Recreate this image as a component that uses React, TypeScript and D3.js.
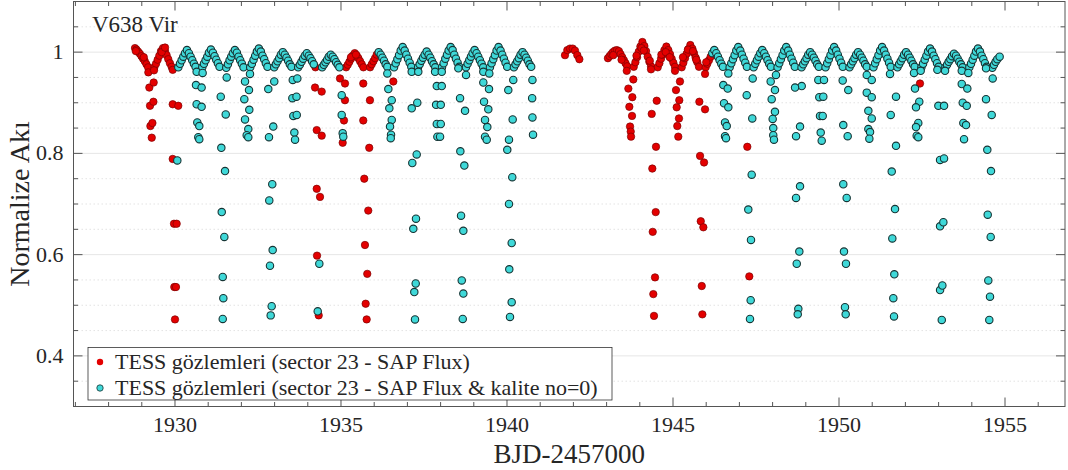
import React from "react";
import * as d3 from "d3";

// ---------- axes / labels ----------
const xTicks = [1930, 1935, 1940, 1945, 1950, 1955];
const yTicks = [0.4, 0.6, 0.8, 1];
const yTickLabels = ["0.4", "0.6", "0.8", "1"];
const xDomain: [number, number] = [1926.943, 1956.807];
const yDomain: [number, number] = [0.3, 1.1];
const title = "V638 Vir";
const xLabel = "BJD-2457000";
const yLabel = "Normalize Akı";
const legendLabels = [
  "TESS gözlemleri (sector 23 - SAP Flux)",
  "TESS gözlemleri (sector 23 - SAP Flux & kalite no=0)",
];

// ---------- SAP flux (all points, red) : out-of-eclipse ----------
const redOut: [number, number][] = [
  [1928.795, 1.008], [1928.84, 1.005], [1928.89, 1.001], [1928.94, 0.997], [1928.99, 0.992], [1929.04, 0.987], [1929.09, 0.982], [1929.14, 0.976], [1929.19, 0.970],
  [1928.82, 1.002], [1929.06, 0.990],
  [1929.378, 0.970], [1929.428, 0.977], [1929.478, 0.985], [1929.528, 0.993], [1929.578, 1.002], [1929.638, 1.008], [1929.698, 1.002], [1929.748, 0.994], [1929.798, 0.986], [1929.848, 0.978], [1929.898, 0.971],
  [1929.60, 1.000], [1929.70, 1.009],
  [1934.23, 0.970],
  [1935.154, 0.970], [1935.204, 0.975], [1935.254, 0.981], [1935.304, 0.987], [1935.354, 0.993], [1935.414, 0.998], [1935.474, 0.993], [1935.524, 0.988], [1935.574, 0.982], [1935.624, 0.976], [1935.674, 0.970],
  [1935.30, 0.990], [1935.45, 0.995],
  [1935.876, 0.970], [1935.926, 0.976], [1935.976, 0.982], [1936.026, 0.988], [1936.076, 0.995],
  [1941.747, 0.994], [1941.817, 1.004], [1941.898, 1.007], [1941.98, 1.007], [1942.048, 1.003], [1942.118, 0.994], [1942.18, 0.986],
  [1943.04, 0.988], [1943.09, 0.992], [1943.14, 0.996], [1943.19, 1.000], [1943.25, 1.003], [1943.31, 1.004], [1943.37, 1.002], [1943.42, 0.996], [1943.47, 0.990], [1943.52, 0.984], [1943.57, 0.978], [1943.62, 0.972],
  [1943.818, 0.971], [1943.868, 0.980], [1943.918, 0.990], [1943.968, 1.001], [1944.018, 1.011], [1944.078, 1.020], [1944.138, 1.012], [1944.188, 1.002], [1944.238, 0.991], [1944.288, 0.981], [1944.338, 0.972],
  [1944.54, 0.970], [1944.59, 0.978], [1944.64, 0.987], [1944.69, 0.995], [1944.74, 1.004], [1944.80, 1.011], [1944.86, 1.004], [1944.91, 0.996], [1944.96, 0.987], [1945.01, 0.979], [1945.06, 0.971],
  [1945.262, 0.970], [1945.312, 0.979], [1945.362, 0.988], [1945.412, 0.997], [1945.462, 1.006], [1945.522, 1.014], [1945.582, 1.007], [1945.632, 0.998], [1945.682, 0.989], [1945.732, 0.980], [1945.782, 0.971],
  [1945.984, 0.970], [1946.034, 0.977], [1946.084, 0.984], [1946.134, 0.991],
  [1943.20, 0.994], [1943.45, 0.985], [1943.90, 0.993], [1944.05, 1.008], [1944.12, 1.003], [1944.30, 0.983], [1944.65, 0.995], [1944.78, 1.000], [1944.90, 0.990], [1945.30, 0.990], [1945.45, 1.005], [1945.60, 1.002], [1945.70, 0.985], [1946.00, 0.980],
];

// ---------- SAP flux (all points, red) : eclipses ----------
const redEcl: [number, number][] = [
  [1929.197, 0.960], [1929.368, 0.964], [1929.227, 0.930], [1929.358, 0.940], [1929.248, 0.894], [1929.35, 0.902], [1929.259, 0.854], [1929.32, 0.860], [1929.30, 0.831],
  [1929.931, 0.965], [1929.931, 0.897], [1930.099, 0.894], [1929.931, 0.789], [1929.97, 0.661], [1930.05, 0.661], [1929.979, 0.536], [1930.03, 0.536], [1930.0, 0.472],
  [1934.218, 0.930], [1934.419, 0.922], [1934.269, 0.846], [1934.419, 0.835], [1934.269, 0.730], [1934.368, 0.714], [1934.278, 0.598], [1934.329, 0.480],
  [1934.97, 0.948], [1935.12, 0.938], [1935.12, 0.905], [1935.09, 0.865], [1935.051, 0.821],
  [1935.671, 0.938], [1935.872, 0.905], [1935.671, 0.865], [1935.851, 0.811], [1935.701, 0.750], [1935.821, 0.687], [1935.722, 0.619], [1935.791, 0.562], [1935.743, 0.503], [1935.773, 0.472],
  [1936.576, 0.942],
  [1943.607, 0.963], [1943.805, 0.946], [1943.655, 0.928], [1943.775, 0.911], [1943.685, 0.892], [1943.766, 0.874], [1943.706, 0.853], [1943.727, 0.843], [1943.736, 0.833],
  [1944.338, 0.966], [1944.509, 0.904], [1944.359, 0.878], [1944.488, 0.813], [1944.377, 0.770], [1944.479, 0.684], [1944.389, 0.645], [1944.458, 0.555], [1944.407, 0.522], [1944.428, 0.479],
  [1945.06, 0.963], [1945.21, 0.942], [1945.09, 0.925], [1945.189, 0.905], [1945.111, 0.891], [1945.18, 0.869], [1945.129, 0.854], [1945.159, 0.833],
  [1945.965, 0.957], [1945.794, 0.902], [1945.965, 0.887], [1945.815, 0.795], [1945.935, 0.782], [1945.836, 0.666], [1945.914, 0.654], [1945.866, 0.538], [1945.884, 0.482],
  [1947.238, 0.813], [1947.298, 0.557],
  [1952.439, 0.938],
];

// ---------- quality = 0 (cyan) : out-of-eclipse ----------
const cyanOut: [number, number][] = [
  [1930.10, 0.970], [1930.15, 0.977], [1930.20, 0.984], [1930.25, 0.991], [1930.30, 0.998], [1930.36, 1.004], [1930.42, 0.998], [1930.47, 0.991], [1930.52, 0.984], [1930.57, 0.977], [1930.62, 0.971],
  [1930.822, 0.970], [1930.872, 0.977], [1930.922, 0.984], [1930.972, 0.991], [1931.022, 0.999], [1931.082, 1.005], [1931.142, 0.999], [1931.192, 0.992], [1931.242, 0.985], [1931.292, 0.978], [1931.342, 0.971],
  [1931.544, 0.969], [1931.594, 0.976], [1931.644, 0.984], [1931.694, 0.991], [1931.744, 0.998], [1931.804, 1.004], [1931.864, 0.999], [1931.914, 0.991], [1931.964, 0.984], [1932.014, 0.977], [1932.064, 0.970],
  [1932.266, 0.970], [1932.316, 0.977], [1932.366, 0.985], [1932.416, 0.993], [1932.466, 1.001], [1932.526, 1.007], [1932.586, 1.001], [1932.636, 0.993], [1932.686, 0.986], [1932.736, 0.978], [1932.786, 0.971],
  [1932.988, 0.970], [1933.038, 0.976], [1933.088, 0.982], [1933.138, 0.988], [1933.188, 0.995], [1933.248, 1.000], [1933.308, 0.995], [1933.358, 0.989], [1933.408, 0.983], [1933.458, 0.976], [1933.508, 0.971],
  [1933.71, 0.970], [1933.76, 0.975], [1933.81, 0.981], [1933.86, 0.987], [1933.91, 0.993], [1933.97, 0.998], [1934.03, 0.993], [1934.08, 0.988], [1934.13, 0.982], [1934.18, 0.976],
  [1934.432, 0.970], [1934.482, 0.975], [1934.532, 0.980], [1934.582, 0.985], [1934.632, 0.991], [1934.692, 0.995], [1934.752, 0.991], [1934.802, 0.986], [1934.852, 0.980], [1934.902, 0.975], [1934.952, 0.970],
  [1936.136, 1.000], [1936.196, 0.995], [1936.246, 0.989], [1936.296, 0.983], [1936.346, 0.976], [1936.396, 0.971],
  [1936.598, 0.970], [1936.648, 0.978], [1936.698, 0.986], [1936.748, 0.994], [1936.798, 1.003], [1936.858, 1.010], [1936.918, 1.003], [1936.968, 0.995], [1937.018, 0.987], [1937.068, 0.979], [1937.118, 0.971],
  [1937.32, 0.970], [1937.37, 0.976], [1937.42, 0.983], [1937.47, 0.989], [1937.52, 0.995], [1937.58, 1.001], [1937.64, 0.995], [1937.69, 0.989], [1937.74, 0.982], [1937.79, 0.976], [1937.84, 0.970],
  [1938.042, 0.970], [1938.092, 0.978], [1938.142, 0.987], [1938.192, 0.995], [1938.242, 1.003], [1938.302, 1.010], [1938.362, 1.004], [1938.412, 0.995], [1938.462, 0.987], [1938.512, 0.979], [1938.562, 0.971],
  [1938.764, 0.970], [1938.814, 0.977], [1938.864, 0.984], [1938.914, 0.991], [1938.964, 0.998], [1939.024, 1.004], [1939.084, 0.998], [1939.134, 0.991], [1939.184, 0.984], [1939.234, 0.977], [1939.284, 0.970],
  [1939.486, 0.970], [1939.536, 0.978], [1939.586, 0.986], [1939.636, 0.994], [1939.686, 1.003], [1939.746, 1.010], [1939.806, 1.003], [1939.856, 0.995], [1939.906, 0.987], [1939.956, 0.979], [1940.006, 0.971],
  [1940.208, 0.970], [1940.258, 0.976], [1940.308, 0.982], [1940.358, 0.988], [1940.408, 0.995], [1940.468, 1.000], [1940.528, 0.995], [1940.578, 0.989], [1940.628, 0.983], [1940.678, 0.976], [1940.728, 0.971],
  [1946.184, 0.998], [1946.244, 1.004], [1946.304, 0.998], [1946.354, 0.991], [1946.404, 0.984], [1946.454, 0.977], [1946.504, 0.971],
  [1946.706, 0.970], [1946.756, 0.978], [1946.806, 0.986], [1946.856, 0.994], [1946.906, 1.003], [1946.966, 1.010], [1947.026, 1.003], [1947.076, 0.995], [1947.126, 0.987], [1947.176, 0.979], [1947.226, 0.971],
  [1947.428, 0.970], [1947.478, 0.977], [1947.528, 0.984], [1947.578, 0.991], [1947.628, 0.998], [1947.688, 1.004], [1947.748, 0.998], [1947.798, 0.991], [1947.848, 0.984], [1947.898, 0.977], [1947.948, 0.971],
  [1948.15, 0.970], [1948.20, 0.978], [1948.25, 0.986], [1948.30, 0.994], [1948.35, 1.003], [1948.41, 1.010], [1948.47, 1.003], [1948.52, 0.995], [1948.57, 0.987], [1948.62, 0.979], [1948.67, 0.971],
  [1948.872, 0.970], [1948.922, 0.976], [1948.972, 0.982], [1949.022, 0.988], [1949.072, 0.995], [1949.132, 1.000], [1949.192, 0.995], [1949.242, 0.989], [1949.292, 0.983], [1949.342, 0.976], [1949.392, 0.971],
  [1949.594, 0.970], [1949.644, 0.978], [1949.694, 0.986], [1949.744, 0.994], [1949.794, 1.003], [1949.854, 1.010], [1949.914, 1.003], [1949.964, 0.995], [1950.014, 0.987], [1950.064, 0.979], [1950.114, 0.971],
  [1950.316, 0.970], [1950.366, 0.976], [1950.416, 0.982], [1950.466, 0.988], [1950.516, 0.995], [1950.576, 1.000], [1950.636, 0.995], [1950.686, 0.989], [1950.736, 0.983], [1950.786, 0.976], [1950.836, 0.971],
  [1951.038, 0.970], [1951.088, 0.978], [1951.138, 0.986], [1951.188, 0.994], [1951.238, 1.003], [1951.298, 1.010], [1951.358, 1.003], [1951.408, 0.995], [1951.458, 0.987], [1951.508, 0.979], [1951.558, 0.971],
  [1951.76, 0.970], [1951.81, 0.976], [1951.86, 0.982], [1951.91, 0.988], [1951.96, 0.995], [1952.02, 1.000], [1952.08, 0.995], [1952.13, 0.989], [1952.18, 0.983], [1952.23, 0.976], [1952.28, 0.971],
  [1952.482, 0.970], [1952.532, 0.977], [1952.582, 0.985], [1952.632, 0.993], [1952.682, 1.001], [1952.742, 1.007], [1952.802, 1.001], [1952.852, 0.993], [1952.902, 0.986], [1952.952, 0.978], [1953.002, 0.971],
  [1953.204, 0.970], [1953.254, 0.975], [1953.304, 0.981], [1953.354, 0.986], [1953.404, 0.992], [1953.464, 0.997], [1953.524, 0.993], [1953.574, 0.987], [1953.624, 0.981], [1953.674, 0.976], [1953.724, 0.970],
  [1953.926, 0.970], [1953.976, 0.977], [1954.026, 0.985], [1954.076, 0.993], [1954.126, 1.001], [1954.186, 1.007], [1954.246, 1.001], [1954.296, 0.993], [1954.346, 0.986], [1954.396, 0.978], [1954.446, 0.971],
  [1954.618, 0.969], [1954.668, 0.975], [1954.718, 0.981], [1954.768, 0.986], [1954.838, 0.991],
];

// ---------- quality = 0 (cyan) : eclipses ----------
const cyanEcl: [number, number][] = [
  [1930.07, 0.786],
  [1930.652, 0.961], [1930.832, 0.959], [1930.632, 0.935], [1930.802, 0.930], [1930.652, 0.897], [1930.802, 0.892], [1930.672, 0.861], [1930.732, 0.854], [1930.702, 0.832], [1930.732, 0.828],
  [1931.558, 0.950], [1931.378, 0.912], [1931.528, 0.877], [1931.396, 0.811], [1931.507, 0.765], [1931.408, 0.684], [1931.486, 0.635], [1931.438, 0.556], [1931.456, 0.514], [1931.438, 0.473],
  [1932.259, 0.957], [1932.109, 0.942], [1932.229, 0.925], [1932.088, 0.907], [1932.238, 0.886], [1932.109, 0.867], [1932.208, 0.848], [1932.16, 0.836], [1932.208, 0.832],
  [1932.99, 0.942], [1932.81, 0.927], [1932.96, 0.853], [1932.831, 0.832], [1932.93, 0.739], [1932.84, 0.707], [1932.942, 0.609], [1932.861, 0.578], [1932.912, 0.498], [1932.882, 0.480],
  [1933.547, 0.945], [1933.685, 0.948], [1933.535, 0.909], [1933.66, 0.912], [1933.565, 0.874], [1933.667, 0.876], [1933.595, 0.841], [1933.616, 0.827],
  [1934.347, 0.582], [1934.299, 0.488],
  [1935.021, 0.915], [1935.021, 0.876], [1935.051, 0.840], [1935.069, 0.833],
  [1936.396, 0.958], [1936.426, 0.927], [1936.528, 0.905], [1936.456, 0.889], [1936.528, 0.866], [1936.477, 0.853], [1936.507, 0.837], [1936.498, 0.830],
  [1937.13, 0.961], [1937.328, 0.961], [1937.298, 0.900], [1937.13, 0.889], [1937.28, 0.798], [1937.148, 0.781], [1937.259, 0.671], [1937.178, 0.651], [1937.25, 0.543], [1937.208, 0.526], [1937.229, 0.472],
  [1937.834, 0.961], [1938.035, 0.961], [1937.885, 0.933], [1938.035, 0.933], [1937.864, 0.896], [1938.005, 0.896], [1937.885, 0.858], [1938.005, 0.858], [1937.903, 0.833], [1937.984, 0.833],
  [1938.534, 0.968], [1938.766, 0.955], [1938.586, 0.909], [1938.736, 0.884], [1938.595, 0.804], [1938.715, 0.776], [1938.616, 0.677], [1938.685, 0.647], [1938.637, 0.549], [1938.685, 0.523], [1938.667, 0.473],
  [1939.287, 0.961], [1939.467, 0.958], [1939.287, 0.940], [1939.458, 0.927], [1939.308, 0.902], [1939.437, 0.887], [1939.338, 0.866], [1939.407, 0.852], [1939.338, 0.833], [1939.389, 0.827],
  [1940.189, 0.945], [1940.039, 0.925], [1940.171, 0.867], [1940.06, 0.827], [1940.009, 0.807], [1940.159, 0.753], [1940.06, 0.700], [1940.141, 0.623], [1940.069, 0.571], [1940.141, 0.506], [1940.09, 0.477],
  [1940.766, 0.945], [1940.758, 0.909], [1940.766, 0.871], [1940.784, 0.837],
  [1946.666, 0.958], [1946.516, 0.935], [1946.648, 0.928], [1946.537, 0.899], [1946.666, 0.891], [1946.567, 0.861], [1946.618, 0.854], [1946.567, 0.834], [1946.597, 0.830],
  [1947.40, 0.948], [1947.22, 0.915], [1947.388, 0.869], [1947.37, 0.758], [1947.268, 0.689], [1947.349, 0.629], [1947.34, 0.510], [1947.319, 0.473],
  [1948.101, 0.955], [1947.942, 0.942], [1948.071, 0.925], [1947.972, 0.907], [1948.071, 0.882], [1948.002, 0.868], [1948.02, 0.850], [1948.02, 0.836], [1948.041, 0.827],
  [1948.877, 0.933], [1948.676, 0.930], [1948.826, 0.853], [1948.706, 0.834], [1948.826, 0.735], [1948.706, 0.712], [1948.805, 0.606], [1948.727, 0.582], [1948.775, 0.493], [1948.757, 0.482],
  [1949.377, 0.945], [1949.548, 0.945], [1949.407, 0.911], [1949.527, 0.912], [1949.428, 0.874], [1949.509, 0.874], [1949.449, 0.841], [1949.479, 0.825],
  [1950.111, 0.944], [1950.279, 0.925], [1950.129, 0.856], [1950.261, 0.834], [1950.129, 0.739], [1950.231, 0.712], [1950.15, 0.606], [1950.21, 0.582], [1950.18, 0.496], [1950.201, 0.482],
  [1950.836, 0.955], [1950.986, 0.945], [1950.836, 0.920], [1950.986, 0.911], [1950.884, 0.884], [1950.986, 0.869], [1950.884, 0.848], [1950.935, 0.842], [1950.914, 0.829],
  [1951.537, 0.957], [1951.717, 0.912], [1951.558, 0.876], [1951.717, 0.815], [1951.588, 0.764], [1951.687, 0.690], [1951.606, 0.632], [1951.666, 0.561], [1951.636, 0.514], [1951.657, 0.478],
  [1952.259, 0.959], [1952.46, 0.963], [1952.289, 0.928], [1952.418, 0.902], [1952.319, 0.891], [1952.388, 0.860], [1952.319, 0.852], [1952.34, 0.835], [1952.388, 0.832],
  [1952.963, 0.965], [1953.194, 0.963], [1952.993, 0.894], [1953.164, 0.894], [1953.044, 0.787], [1953.164, 0.790], [1953.044, 0.656], [1953.143, 0.664], [1953.044, 0.530], [1953.113, 0.539], [1953.095, 0.471],
  [1953.697, 0.963], [1953.895, 0.959], [1953.697, 0.937], [1953.865, 0.928], [1953.727, 0.900], [1953.847, 0.894], [1953.745, 0.860], [1953.826, 0.856], [1953.766, 0.828],
  [1954.428, 0.968], [1954.629, 0.948], [1954.428, 0.907], [1954.599, 0.876], [1954.467, 0.807], [1954.578, 0.765], [1954.479, 0.679], [1954.569, 0.635], [1954.497, 0.549], [1954.548, 0.517], [1954.527, 0.471],
];

const W = 1068;
const H = 470;
const PL = 73.5, PR = 1065, PT = 1.5, PB = 406.5;
const FONT = "'Liberation Serif', 'Times New Roman', serif";
const AXIS = "#555";
const TXT = "#262626";
const RED_FILL = "#e30000";
const RED_EDGE = "#7d0000";
const CY_FILL = "#3fd8d8";
const CY_EDGE = "#173434";

export default function App() {
  const x = d3.scaleLinear().domain(xDomain).range([PL, PR]);
  const y = d3.scaleLinear().domain(yDomain).range([PB, PT]);
  const xMinor = d3.range(1927, 1957, 1).filter((v) => !xTicks.includes(v));
  const yGridAll = d3.range(0, 17).map((i) => +(0.3 + i * 0.05).toFixed(2)).filter((v) => v > 0.3 && v < 1.1);
  const yMinor = yGridAll.filter((v) => !yTicks.some((t) => Math.abs(t - v) < 1e-6));
  const red = [...redOut, ...redEcl];
  const cyan = [...cyanOut, ...cyanEcl];
  const r = 3.7;

  return (
    <svg width={W} height={H} style={{ position: "absolute", left: 0, top: 0, background: "#fff" }} fontFamily={FONT}>
      <defs>
        <clipPath id="plotclip">
          <rect x={PL} y={PT} width={PR - PL} height={PB - PT} />
        </clipPath>
      </defs>
      <rect x={0} y={0} width={W} height={H} fill="#fff" />
      {/* grid */}
      {yMinor.map((v) => (
        <line key={"gm" + v} x1={PL} x2={PR} y1={y(v)} y2={y(v)} stroke="#dcdcdc" strokeWidth={0.8} strokeDasharray="1.5,2.5" />
      ))}
      {yTicks.map((v) => (
        <line key={"gM" + v} x1={PL} x2={PR} y1={y(v)} y2={y(v)} stroke="#e6e6e6" strokeWidth={1} />
      ))}
      {/* data */}
      <g clipPath="url(#plotclip)">
        {red.map((d, i) => (
          <circle key={"r" + i} cx={x(d[0])} cy={y(d[1])} r={r} fill={RED_FILL} stroke={RED_EDGE} strokeWidth={0.7} />
        ))}
        {cyan.map((d, i) => (
          <circle key={"c" + i} cx={x(d[0])} cy={y(d[1])} r={r} fill={CY_FILL} stroke={CY_EDGE} strokeWidth={1.1} />
        ))}
      </g>
      {/* axes box */}
      <rect x={PL} y={PT} width={PR - PL} height={PB - PT} fill="none" stroke={AXIS} strokeWidth={1} />
      {xTicks.map((v) => (
        <g key={"xt" + v}>
          <line x1={x(v)} x2={x(v)} y1={PB} y2={PB - 9} stroke={AXIS} />
          <line x1={x(v)} x2={x(v)} y1={PT} y2={PT + 9} stroke={AXIS} />
          <text x={x(v)} y={432} textAnchor="middle" fontSize={22} fill={TXT}>{v}</text>
        </g>
      ))}
      {xMinor.map((v) => (
        <g key={"xm" + v}>
          <line x1={x(v)} x2={x(v)} y1={PB} y2={PB - 4.5} stroke={AXIS} />
          <line x1={x(v)} x2={x(v)} y1={PT} y2={PT + 4.5} stroke={AXIS} />
        </g>
      ))}
      {yTicks.map((v, i) => (
        <g key={"yt" + v}>
          <line x1={PL} x2={PL + 9} y1={y(v)} y2={y(v)} stroke={AXIS} />
          <line x1={PR} x2={PR - 9} y1={y(v)} y2={y(v)} stroke={AXIS} />
          <text x={PL - 10} y={y(v) + 7} textAnchor="end" fontSize={22} fill={TXT}>{yTickLabels[i]}</text>
        </g>
      ))}
      {yMinor.map((v) => (
        <g key={"ym" + v}>
          <line x1={PL} x2={PL + 4.5} y1={y(v)} y2={y(v)} stroke={AXIS} />
          <line x1={PR} x2={PR - 4.5} y1={y(v)} y2={y(v)} stroke={AXIS} />
        </g>
      ))}
      {/* labels */}
      <text x={(PL + PR) / 2} y={463} textAnchor="middle" fontSize={27} fill={TXT}>{xLabel}</text>
      <text transform={`translate(29, ${(PT + PB) / 2}) rotate(-90)`} textAnchor="middle" fontSize={28} fill={TXT}>{yLabel}</text>
      <text x={92} y={31.5} fontSize={23} fill={TXT}>{title}</text>
      {/* legend */}
      <g>
        <rect x={88} y={347.5} width={524} height={52.5} fill="#fff" stroke="#333" strokeWidth={0.8} />
        <circle cx={100} cy={362} r={3.2} fill={RED_FILL} />
        <circle cx={100} cy={388} r={3.2} fill={CY_FILL} stroke={CY_EDGE} strokeWidth={0.8} />
        <text x={115} y={369} fontSize={22} fill={TXT}>{legendLabels[0]}</text>
        <text x={115} y={395} fontSize={22} fill={TXT}>{legendLabels[1]}</text>
      </g>
    </svg>
  );
}
